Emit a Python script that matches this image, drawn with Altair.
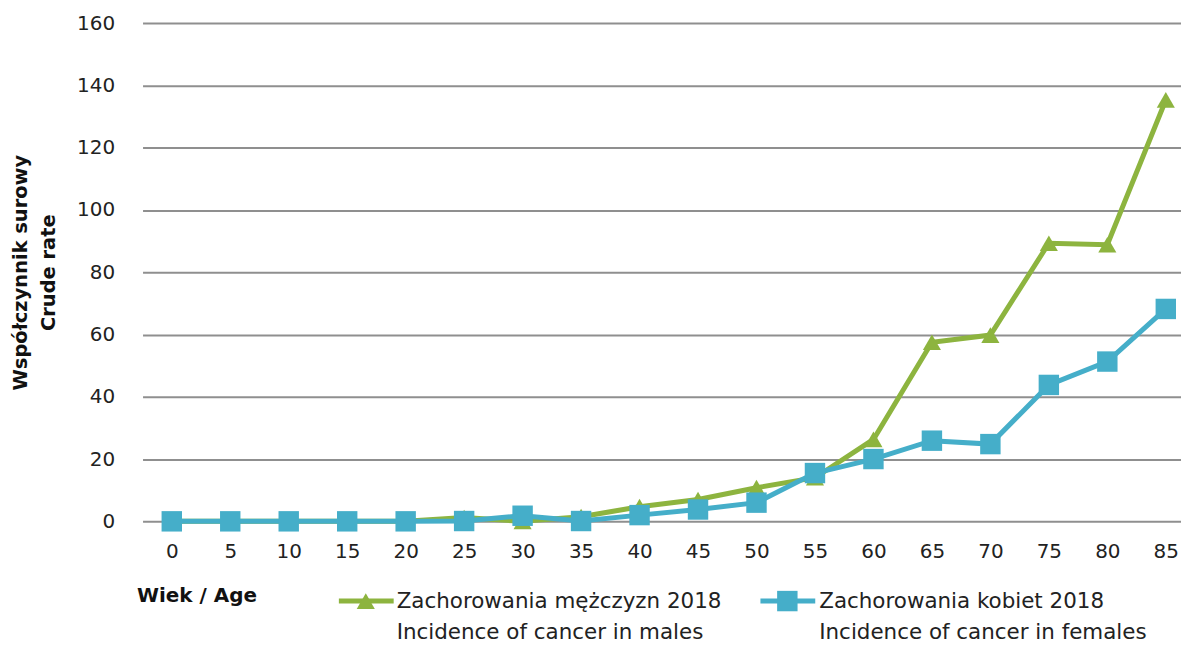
import altair as alt
import pandas as pd

ages = [0, 5, 10, 15, 20, 25, 30, 35, 40, 45, 50, 55, 60, 65, 70, 75, 80, 85]
males = [0, 0, 0, 0, 0, 1.2, 0, 1.5, 4.7, 7.0, 10.8, 14.0, 26.3, 57.5, 59.8, 89.3, 88.8, 135.3]
females = [0, 0, 0, 0, 0, 0.1, 1.8, 0.1, 2.0, 3.8, 6.0, 15.5, 20.0, 25.9, 24.8, 43.8, 51.3, 68.2]
y_ticks = [0, 20, 40, 60, 80, 100, 120, 140, 160]

male_name = "Zachorowania mężczyzn 2018"
female_name = "Zachorowania kobiet 2018"
male_label = ["Zachorowania mężczyzn 2018", "Incidence of cancer in males"]
female_label = ["Zachorowania kobiet 2018", "Incidence of cancer in females"]

GREEN = "#8db43f"
BLUE = "#45aec9"
FONT = "DejaVu Sans"

df = pd.DataFrame(
    {"age": ages * 2,
     "rate": males + females,
     "series": [male_name] * len(ages) + [female_name] * len(ages)}
)

x = alt.X(
    "age:Q",
    scale=alt.Scale(domain=[-2.5, 86.3], nice=False, zero=False),
    axis=alt.Axis(
        values=ages, grid=False, ticks=False, domain=False,
        labelPadding=20, labelFontSize=20, labelFont=FONT, labelColor="#222222",
        title="Wiek / Age", titleFont=FONT, titleFontSize=20, titleFontWeight="bold",
        titleColor="#111111", titleAnchor="start", titleAlign="left",
        titleX=-6, titleY=80, titleBaseline="alphabetic",
    ),
)
y = alt.Y(
    "rate:Q",
    scale=alt.Scale(domain=[0, 160], nice=False),
    axis=alt.Axis(
        values=y_ticks, grid=True, gridColor="#8f8f8f", gridWidth=2,
        domain=False, ticks=False, labelPadding=28, labelFontSize=20,
        labelFont=FONT, labelColor="#222222",
        title=["Współczynnik surowy", "Crude rate"], titleFont=FONT,
        titleFontSize=19.5, titleFontWeight="bold", titleColor="#111111",
        titlePadding=18, titleLineHeight=28,
    ),
)
color = alt.Color(
    "series:N",
    scale=alt.Scale(domain=[male_name, female_name], range=[GREEN, BLUE]),
    legend=None,
)

base = alt.Chart(df).encode(x=x, y=y, color=color)

male_line = base.transform_filter(alt.datum.series == male_name).mark_line(strokeWidth=5)
male_pts = base.transform_filter(alt.datum.series == male_name).mark_point(
    shape="triangle-up", size=330, filled=True, opacity=1)
fem_line = base.transform_filter(alt.datum.series == female_name).mark_line(strokeWidth=5)
fem_pts = base.transform_filter(alt.datum.series == female_name).mark_point(
    shape="square", size=420, filled=True, opacity=1)

# manual legend
leg = alt.Chart(pd.DataFrame({"k": [0]}))
leg_m_line = leg.mark_rule(color=GREEN, strokeWidth=5).encode(
    x=alt.value(197), x2=alt.value(252), y=alt.value(580))
leg_m_pt = leg.mark_point(shape="triangle-up", size=330, filled=True, opacity=1,
                          color=GREEN).encode(x=alt.value(224), y=alt.value(580))
leg_m_txt = leg.mark_text(align="left", baseline="alphabetic", font=FONT, fontSize=21.5,
                          lineHeight=31, color="#222222").encode(
    x=alt.value(255), y=alt.value(587), text=alt.value(male_label))
leg_f_line = leg.mark_rule(color=BLUE, strokeWidth=5).encode(
    x=alt.value(620), x2=alt.value(675), y=alt.value(580))
leg_f_pt = leg.mark_point(shape="square", size=420, filled=True, opacity=1,
                          color=BLUE).encode(x=alt.value(647), y=alt.value(580))
leg_f_txt = leg.mark_text(align="left", baseline="alphabetic", font=FONT, fontSize=21.5,
                          lineHeight=31, color="#222222").encode(
    x=alt.value(679), y=alt.value(587), text=alt.value(female_label))

chart = alt.layer(
    male_line, male_pts, fem_line, fem_pts,
    leg_m_line, leg_m_pt, leg_m_txt, leg_f_line, leg_f_pt, leg_f_txt,
).properties(
    width=1042, height=500,
    autosize=alt.AutoSizeParams(type="none"),
    padding={"left": 135, "top": 14, "right": 0, "bottom": 123},
).configure(background="white").configure_view(stroke=None)

chart.save("out.html", embed_options={"renderer": "svg", "actions": False})
